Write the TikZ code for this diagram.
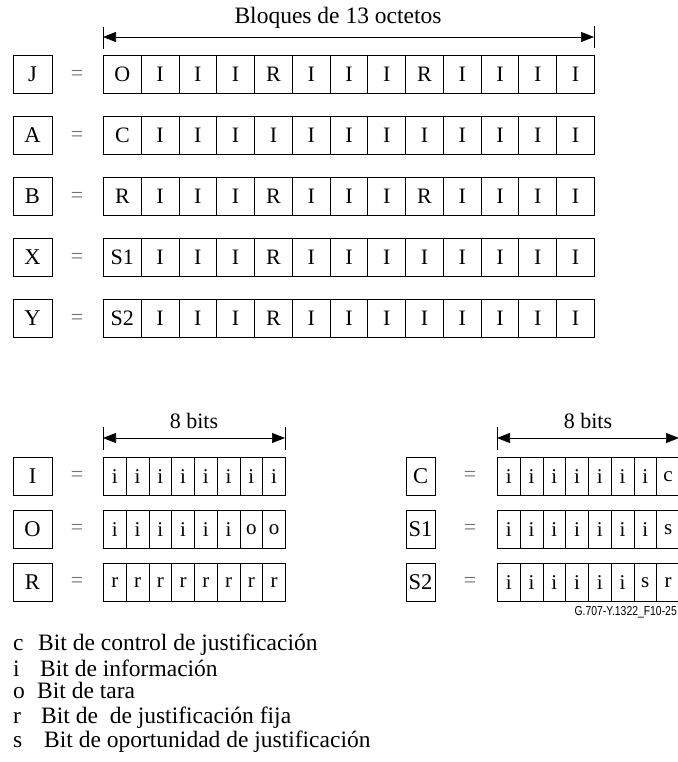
\documentclass[tikz,border=0pt]{standalone}
\usepackage{fontspec}
\setmainfont{Liberation Serif}
\setsansfont{Liberation Sans}
\usepackage{tikz}
\usetikzlibrary{arrows.meta,positioning,calc}

\begin{document}
\begin{tikzpicture}[
  x=1pt, y=-1pt,
  cell/.style={draw, line width=0.9pt, minimum height=38pt, inner sep=0pt, anchor=north west, font=\fontsize{22}{24}\selectfont},
  bigcell/.style={cell, minimum width=37.77pt},
  bitcell/.style={cell, minimum width=22.75pt, font=\fontsize{21}{24}\selectfont},
  tag/.style={draw, line width=0.9pt, minimum width=39pt, minimum height=38pt, inner sep=0pt, font=\fontsize{22.5}{24}\selectfont},
  eq/.style={text=black!55, font=\fontsize{22}{24}\selectfont},
  dim/.style={<->, >={Triangle[length=13pt, width=10pt]}, line width=0.7pt},
  tick/.style={line width=0.7pt},
  legend/.style={anchor=base west, inner sep=0pt, font=\fontsize{23.5}{26}\selectfont}
]
  \useasboundingbox (0,0) rectangle (677,762);
  % Blocks of 13 bytes
  \coordinate (top-l) at (103,37);
  \coordinate (top-r) at (594,37);
  \draw[dim] (top-l) -- (top-r);
  \draw[tick] ([yshift=10pt]top-l) -- ([yshift=-12pt]top-l);
  \draw[tick] ([yshift=11pt]top-r) -- ([yshift=-11pt]top-r);
  \node[font=\fontsize{23.5}{26}\selectfont] (title) at (338,18) {Bloques de 13 octetos};
  \foreach \name/\row/\top in {J/{O,I,I,I,R,I,I,I,R,I,I,I,I}/55,
                               A/{C,I,I,I,I,I,I,I,I,I,I,I,I}/116,
                               B/{R,I,I,I,R,I,I,I,R,I,I,I,I}/177,
                               X/{S1,I,I,I,R,I,I,I,I,I,I,I,I}/238,
                               Y/{S2,I,I,I,R,I,I,I,I,I,I,I,I}/299} {
    \node[tag] (\name) at (32.5,\top+19) {\name};
    \node[eq] (eq\name) at (77,\top+20.5) {=};
    \foreach \c [count=\k from 0] in \row
      \node[bigcell] (\name-\k) at (103+\k*37.77,\top) {\c};
  }
  % Bytes of 8 bits, left group
  \coordinate (bl-l) at (103,438);
  \coordinate (bl-r) at (285,438);
  \draw[dim] (bl-l) -- (bl-r);
  \draw[tick] ([yshift=11pt]bl-l) -- ([yshift=-12pt]bl-l);
  \draw[tick] ([yshift=11pt]bl-r) -- ([yshift=-12pt]bl-r);
  \node[font=\fontsize{22}{24}\selectfont] (bits-l) at (194,421) {8 bits};
  \foreach \name/\row/\top in {I/{i,i,i,i,i,i,i,i}/457,
                               O/{i,i,i,i,i,i,o,o}/510,
                               R/{r,r,r,r,r,r,r,r}/563} {
    \node[tag] (\name) at (32.5,\top+19) {\name};
    \node[eq] (eq\name) at (77,\top+19) {=};
    \foreach \c [count=\k from 0] in \row
      \node[bitcell] (\name-\k) at (103+\k*22.75,\top) {\c};
  }
  % Bytes of 8 bits, right group
  \coordinate (br-l) at (497,438);
  \coordinate (br-r) at (679,438);
  \draw[dim] (br-l) -- (br-r);
  \draw[tick] ([yshift=11pt]br-l) -- ([yshift=-12pt]br-l);
  \draw[tick] ([yshift=11pt]br-r) -- ([yshift=-12pt]br-r);
  \node[font=\fontsize{22}{24}\selectfont] (bits-r) at (588,421) {8 bits};
  \foreach \name/\row/\top in {C/{i,i,i,i,i,i,i,c}/457,
                               S1/{i,i,i,i,i,i,i,s}/510,
                               S2/{i,i,i,i,i,i,s,r}/563} {
    \node[tag, minimum width=29pt] (\name) at (420.5,\top+19) {\name};
    \node[eq] (eq\name) at (470,\top+19) {=};
    \foreach \c [count=\k from 0] in \row
      \node[bitcell] (\name-\k) at (497+\k*22.75,\top) {\c};
  }
  \node[anchor=east, inner sep=0pt, font=\sffamily\fontsize{13}{14}\selectfont] (figid) at (677,612) {\scalebox{0.8}[1]{G.707-Y.1322\_F10-25}};
  % Legend
  \foreach \k/\t/\x/\y in {c/{Bit de control de justificación}/38/650,
                           i/{Bit de información}/40/676,
                           o/{Bit de tara}/37/698,
                           r/{Bit de~ de justificación fija}/41/723,
                           s/{Bit de oportunidad de justificación}/44/747} {
    \node[legend] (key-\k) at (13,\y) {\k};
    \node[legend] (txt-\k) at (\x,\y) {\t};
  }
\end{tikzpicture}
\end{document}
